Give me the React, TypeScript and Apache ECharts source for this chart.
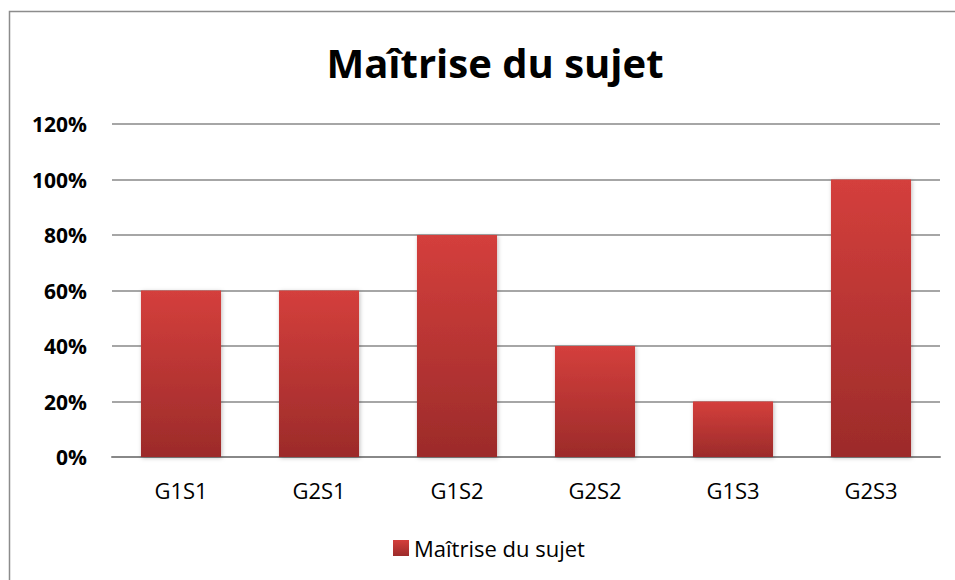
import React, { useEffect, useRef } from "react";
import * as echarts from "echarts";

const categories = ["G1S1", "G2S1", "G1S2", "G2S2", "G1S3", "G2S3"];
const values = [0.6, 0.6, 0.8, 0.4, 0.2, 1.0];
const seriesName = "Maîtrise du sujet";
const titleText = "Maîtrise du sujet";

export default function App() {
  const ref = useRef<HTMLDivElement>(null);
  useEffect(() => {
    if (!ref.current) return;
    const chart = echarts.init(ref.current, null, { renderer: "svg" });
    const grad = new echarts.graphic.LinearGradient(0, 0, 0, 1, [
      { offset: 0, color: "#d43f3c" },
      { offset: 1, color: "#9c2b2a" },
    ]);
    chart.setOption({
      animation: false,
      backgroundColor: "#ffffff",
      title: {
        text: titleText,
        left: 490,
        textAlign: "center",
        top: 37,
        textStyle: { fontFamily: "Open Sans", fontWeight: "bold", fontSize: 40, color: "#000" },
      },
      graphic: [
        {
          type: "rect",
          shape: { x: 9.5, y: 11.5, width: 960, height: 600 },
          style: { fill: "none", stroke: "#8c8c8c", lineWidth: 1.5 },
          silent: true,
        },
      ],
      legend: {
        top: 532,
        left: 388,
        itemWidth: 16,
        itemHeight: 16,
        itemGap: 6,
        textStyle: { fontFamily: "Open Sans", fontSize: 22, color: "#000" },
        data: [{ name: seriesName, icon: "rect" }],
      },
      grid: { left: 112, right: 15, top: 124, bottom: 123, containLabel: false },
      xAxis: {
        type: "category",
        data: categories,
        axisLine: { show: true, lineStyle: { color: "#888", width: 2 } },
        axisTick: { show: false },
        axisLabel: { fontFamily: "Open Sans", fontSize: 22, color: "#000", margin: 22 },
      },
      yAxis: {
        type: "value",
        min: 0,
        max: 1.2,
        interval: 0.2,
        axisLine: { show: false },
        axisTick: { show: false },
        splitLine: { lineStyle: { color: "#888", width: 1.5 } },
        axisLabel: {
          fontFamily: "Open Sans",
          fontWeight: "bold",
          fontSize: 21,
          color: "#000",
          margin: 25,
          formatter: (v: number) => Math.round(v * 100) + "%",
        },
      },
      series: [
        {
          name: seriesName,
          type: "bar",
          data: values,
          barWidth: "58%",
          itemStyle: {
            color: grad,
            shadowColor: "rgba(0,0,0,0.25)",
            shadowBlur: 4,
            shadowOffsetX: 1,
            shadowOffsetY: 1,
          },
        },
      ],
    });
    return () => chart.dispose();
  }, []);
  return (
    <div
      ref={ref}
      style={{ position: "absolute", left: 0, top: 0, width: 955, height: 580 }}
    />
  );
}
